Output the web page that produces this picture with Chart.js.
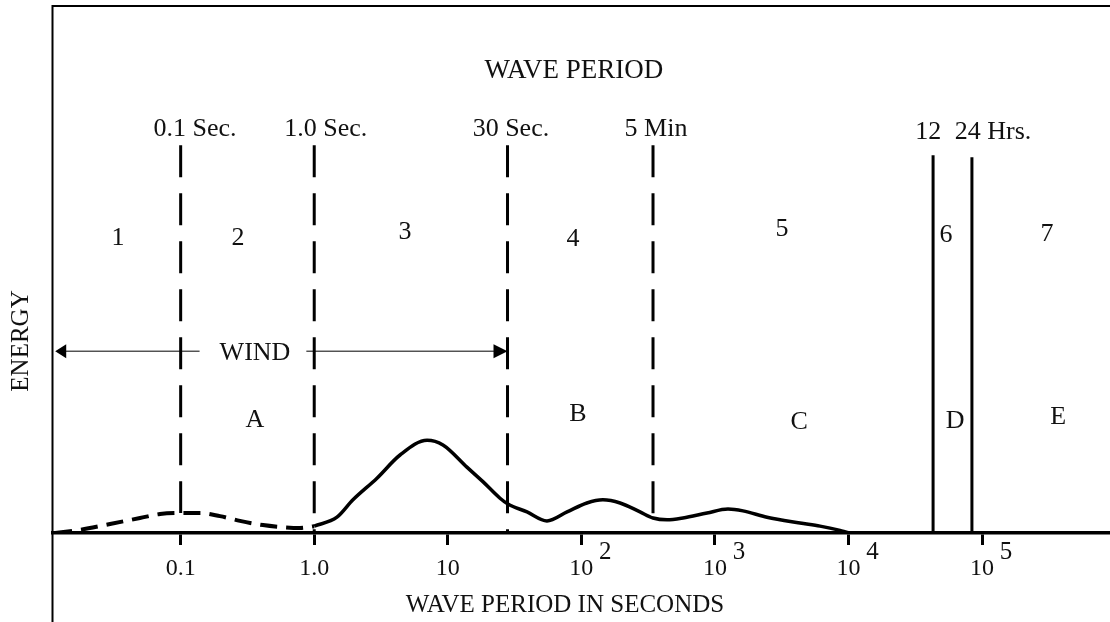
<!DOCTYPE html>
<html>
<head>
<meta charset="utf-8">
<script src="https://cdn.jsdelivr.net/npm/chart.js@4"></script>
<style>
  body { margin: 0; background: #fff; }
  canvas { display: block; }
</style>
</head>
<body>
<canvas id="chart" width="1110" height="622"></canvas>
<script>
// wave period (seconds) vs relative energy
const windPeriods = [0.0115, 0.0176, 0.0296, 0.0496, 0.070, 0.099, 0.14, 0.197, 0.278, 0.413, 0.583, 0.781, 1.0];
const windEnergy  = [0, 0.6, 1.7, 2.85, 3.6, 3.8, 3.8, 3.2, 2.3, 1.5, 1.1, 0.95, 1.3];
const mainPeriods = [1.0, 1.48, 1.95, 2.95, 4.39, 7.0, 9.2, 13.9, 18.4, 24.6, 28.2, 39.2, 55.3, 78.2, 110, 145, 195, 275, 344, 438, 577, 873, 1253, 1622, 2455, 4335, 6124, 8650, 10280, 900000];
const mainEnergy  = [1.3, 3.0, 6.3, 10.4, 14.8, 17.6, 16.7, 12.5, 9.7, 6.6, 5.5, 4.0, 2.3, 4.0, 5.7, 6.3, 5.7, 4.0, 2.85, 2.5, 2.85, 3.8, 4.55, 4.2, 3.0, 1.9, 1.3, 0.5, 0, 0];

// boundaries: 0.1 s, 1 s, 30 s, 5 min (dashed) and 12 h, 24 h (solid)
const dashedMarks = [0.1, 1.0, 28, 344];
const dashedEnds  = [3.8, 0, 0, 2.85];
const dashedTop   = 73.6;
const solidMarks  = [43000, 84000];
const solidTops   = [71.7, 71.3];

const tickValues    = [0.1, 1, 10, 100, 1000, 10000, 100000];
const tickLabels    = ['0.1', '1.0', '10', '10', '10', '10', '10'];
const tickExponents = ['', '', '', '2', '3', '4', '5'];

const bandNumbers = ['1', '2', '3', '4', '5', '6', '7'];
const bandLetters = ['A', 'B', 'C', 'D', 'E'];
const periodLabels = ['0.1 Sec.', '1.0 Sec.', '30 Sec.', '5 Min', '12', '24 Hrs.'];

const windFrom = 0.0115, windTo = 28, windLevel = 34.5;

const FONT = '"Liberation Serif", "Times New Roman", serif';

// where the texts sit, in period / energy units
const notes = [
  { text: 'WAVE PERIOD', x: 88, y: 88.0, size: 27 },
  { text: periodLabels[0], x: 0.128, y: 77.0 },
  { text: periodLabels[1], x: 1.22, y: 77.0 },
  { text: periodLabels[2], x: 29.7, y: 77.0 },
  { text: periodLabels[3], x: 362, y: 77.0 },
  { text: periodLabels[4], x: 39500, y: 76.3 },
  { text: periodLabels[5], x: 121000, y: 76.3 },
  { text: bandNumbers[0], x: 0.034, y: 56.2 },
  { text: bandNumbers[1], x: 0.269, y: 56.2 },
  { text: bandNumbers[2], x: 4.78, y: 57.5 },
  { text: bandNumbers[3], x: 86.5, y: 56.0 },
  { text: bandNumbers[4], x: 3180, y: 58.0 },
  { text: bandNumbers[5], x: 53700, y: 56.9 },
  { text: bandNumbers[6], x: 307000, y: 57.1 },
  { text: bandLetters[0], x: 0.36, y: 21.8 },
  { text: bandLetters[1], x: 94.4, y: 22.8 },
  { text: bandLetters[2], x: 4270, y: 21.4 },
  { text: bandLetters[3], x: 62800, y: 21.6 },
  { text: bandLetters[4], x: 371000, y: 22.4 }
];

function toPoints(xs, ys) {
  return xs.map((v, i) => ({ x: v, y: ys[i] }));
}

const datasets = [
  {
    data: toPoints(windPeriods, windEnergy),
    borderColor: '#000', borderWidth: 4, borderDash: [17, 9],
    pointRadius: 0, cubicInterpolationMode: 'monotone'
  },
  {
    data: toPoints(mainPeriods, mainEnergy),
    borderColor: '#000', borderWidth: 3.5,
    pointRadius: 0, cubicInterpolationMode: 'monotone'
  }
];
dashedMarks.forEach((v, i) => {
  datasets.push({
    data: [{ x: v, y: dashedTop }, { x: v, y: dashedEnds[i] }],
    borderColor: '#000', borderWidth: 3, borderDash: [32, 16],
    pointRadius: 0, tension: 0
  });
});
solidMarks.forEach((v, i) => {
  datasets.push({
    data: [{ x: v, y: solidTops[i] }, { x: v, y: 0 }],
    borderColor: '#000', borderWidth: 3,
    pointRadius: 0, tension: 0
  });
});

function centered(ctx, text, cx, cy, size) {
  ctx.font = size + 'px ' + FONT;
  ctx.textAlign = 'center';
  ctx.textBaseline = 'alphabetic';
  ctx.fillText(text, cx, cy + size * 0.33);
}

const decor = {
  id: 'decor',
  afterDraw(chart) {
    const { ctx, chartArea: a, scales: { x, y } } = chart;
    ctx.save();
    ctx.strokeStyle = '#000';
    ctx.fillStyle = '#111';

    // frame
    ctx.lineWidth = 2;
    ctx.beginPath();
    ctx.moveTo(a.left - 0.5, chart.height);
    ctx.lineTo(a.left - 0.5, a.top);
    ctx.lineTo(chart.width, a.top);
    ctx.stroke();

    notes.forEach(n => centered(ctx, n.text, x.getPixelForValue(n.x), y.getPixelForValue(n.y), n.size || 26));

    // wind arrow
    const wy = y.getPixelForValue(windLevel);
    const x0 = x.getPixelForValue(windFrom), x1 = x.getPixelForValue(windTo);
    const wx = x.getPixelForValue(0.36);
    centered(ctx, 'WIND', wx, wy, 26);
    const half = ctx.measureText('WIND').width / 2;
    ctx.lineWidth = 1;
    ctx.beginPath();
    ctx.moveTo(x0 + 8, wy); ctx.lineTo(wx - half - 20, wy);
    ctx.moveTo(wx + half + 16, wy); ctx.lineTo(x1 - 12, wy);
    ctx.stroke();
    ctx.fillStyle = '#000';
    ctx.beginPath();
    ctx.moveTo(x0, wy); ctx.lineTo(x0 + 11, wy - 7); ctx.lineTo(x0 + 11, wy + 7); ctx.closePath();
    ctx.moveTo(x1, wy); ctx.lineTo(x1 - 14, wy - 7); ctx.lineTo(x1 - 14, wy + 7); ctx.closePath();
    ctx.fill();

    // exponents on the decade labels
    ctx.fillStyle = '#111';
    tickValues.forEach((v, i) => {
      if (tickExponents[i]) centered(ctx, tickExponents[i], x.getPixelForValue(v) + 24, 551, 25);
    });

    // axis titles
    centered(ctx, 'WAVE PERIOD IN SECONDS', 565, 604, 25);
    ctx.translate(20, 341);
    ctx.rotate(-Math.PI / 2);
    centered(ctx, 'ENERGY', 0, 0, 25);
    ctx.restore();
  }
};

new Chart(document.getElementById('chart'), {
  type: 'line',
  data: { datasets },
  options: {
    responsive: false,
    animation: false,
    devicePixelRatio: 1,
    layout: { padding: { left: 53, top: 6, right: 0, bottom: 0 } },
    plugins: { legend: { display: false }, tooltip: { enabled: false } },
    scales: {
      x: {
        type: 'logarithmic',
        min: 0.01107,
        max: 908000,
        afterBuildTicks: scale => { scale.ticks = tickValues.map(v => ({ value: v })); },
        afterFit: scale => { scale.height = 89; },
        border: { display: true, color: '#000', width: 3.5 },
        grid: { drawOnChartArea: false, drawTicks: true, tickLength: 12, tickWidth: 3, tickColor: '#000' },
        ticks: {
          autoSkip: false, maxRotation: 0, padding: 9, color: '#111',
          font: { family: FONT, size: 24 },
          callback: (value, index) => tickLabels[index]
        }
      },
      y: { display: false, min: 0, max: 100 }
    }
  },
  plugins: [decor]
});
</script>
</body>
</html>
